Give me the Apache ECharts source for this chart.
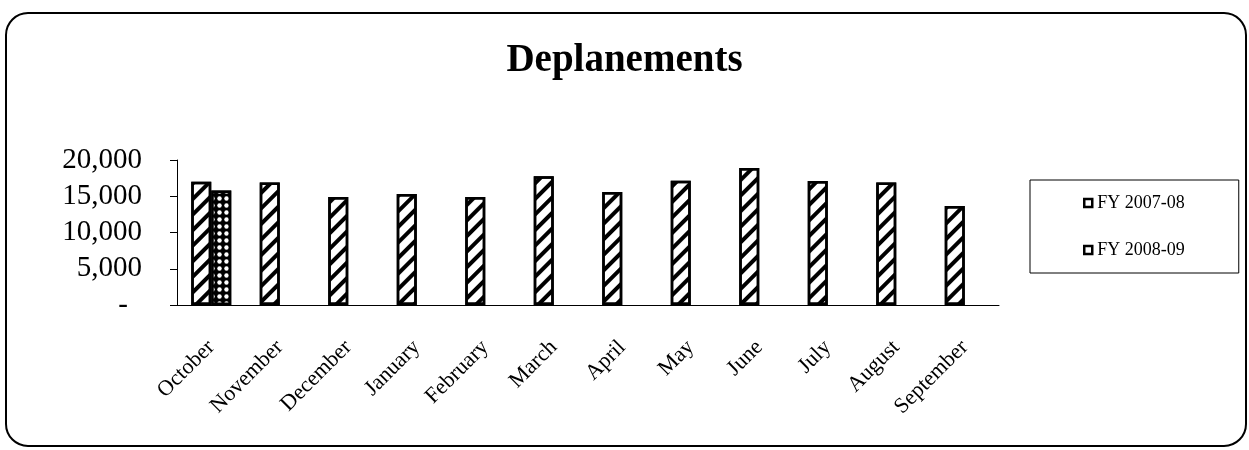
<!DOCTYPE html>
<html>
<head>
<meta charset="utf-8">
<script src="https://cdn.jsdelivr.net/npm/echarts@6/dist/echarts.min.js"></script>
<style>
  html, body { margin: 0; padding: 0; background: #fff; }
  #main { width: 1249px; height: 450px; }
</style>
</head>
<body>
<div id="main"></div>
<script>
var months = ['October', 'November', 'December', 'January', 'February', 'March',
  'April', 'May', 'June', 'July', 'August', 'September'];
var fy0708 = [17000, 16900, 14900, 15300, 14900, 17750, 15600, 17150, 18900, 17100, 16900, 13650];
var fy0809 = [15800, null, null, null, null, null, null, null, null, null, null, null];
var seriesNames = ['FY 2007-08', 'FY 2008-09'];

var serif = 'Liberation Serif';

var myChart = echarts.init(document.getElementById('main'));
myChart.setOption({
  animation: false,
  // rounded frame round the whole chart
  graphic: [{
    type: 'rect',
    shape: { x: 6, y: 13, width: 1240, height: 433, r: 22 },
    style: { fill: 'none', stroke: '#000', lineWidth: 2 },
    silent: true
  }],
  title: {
    text: 'Deplanements',
    left: 'center',
    top: 36,
    textStyle: { fontFamily: serif, fontSize: 39, fontWeight: 'bold', color: '#000' }
  },
  legend: {
    orient: 'vertical',
    left: 1030,
    top: 180,
    padding: [14, 54, 14, 53],
    itemGap: 29,
    itemWidth: 8,
    itemHeight: 8,
    borderColor: '#000',
    borderWidth: 1,
    icon: 'rect',
    itemStyle: { color: '#fff', borderColor: '#000', borderWidth: 2.5, decal: 'none' },
    textStyle: { fontFamily: serif, fontSize: 18, color: '#000' },
    data: seriesNames
  },
  grid: { left: 177, right: 250, top: 160, bottom: 145 },
  xAxis: {
    type: 'category',
    data: months,
    axisLine: { lineStyle: { color: '#000', width: 1 } },
    axisTick: { show: false },
    axisLabel: {
      rotate: 45,
      margin: 39,
      interval: 0,
      fontFamily: serif,
      fontSize: 22,
      color: '#000'
    }
  },
  yAxis: {
    type: 'value',
    min: 0,
    max: 20000,
    interval: 5000,
    splitLine: { show: false },
    axisLine: { show: true, lineStyle: { color: '#000', width: 1 } },
    axisTick: { show: true, length: 7, lineStyle: { color: '#000' } },
    axisLabel: {
      margin: 35,
      fontFamily: serif,
      fontSize: 29,
      color: '#000',
      formatter: function (v) {
        if (v === 0) return '{z|-}';
        return v.toLocaleString('en-US');
      },
      rich: {
        z: { fontFamily: serif, fontSize: 29, color: '#000', padding: [0, 14, 0, 0] }
      }
    }
  },
  series: [{
    name: seriesNames[0],
    type: 'bar',
    barWidth: 20,
    barGap: '0%',
    data: fy0708,
    itemStyle: {
      color: '#fff',
      borderColor: '#000',
      borderWidth: 2.5,
      decal: {
        color: '#000',
        symbol: 'rect',
        dashArrayX: [1, 0],
        dashArrayY: [4, 7],
        rotation: -Math.PI / 4
      }
    }
  }, {
    name: seriesNames[1],
    type: 'bar',
    barWidth: 20,
    barGap: '0%',
    data: fy0809,
    itemStyle: {
      color: '#000',
      borderColor: '#000',
      borderWidth: 2.5,
      decal: {
        color: '#fff',
        symbol: 'circle',
        symbolSize: 0.9,
        dashArrayX: [[5, 2]],
        dashArrayY: [5, 2]
      }
    }
  }]
});
</script>
</body>
</html>
